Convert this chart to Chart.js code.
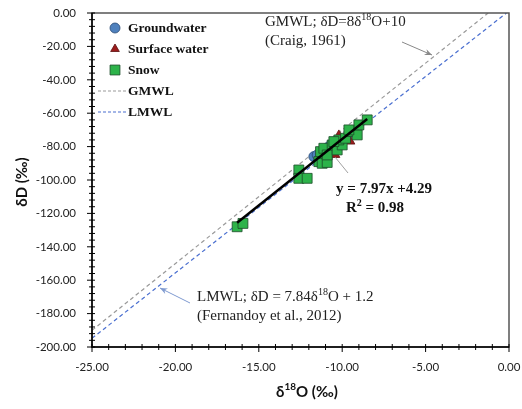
<!DOCTYPE html>
<html>
<head>
<meta charset="utf-8">
<script src="https://cdn.jsdelivr.net/npm/chart.js@4.4.0/dist/chart.umd.min.js"></script>
<style>
  body { margin: 0; background: #fff; }
  #wrap { width: 522px; height: 409px; }
</style>
</head>
<body>
<div id="wrap"><canvas id="chart" width="522" height="409"></canvas></div>
<script>
// isotope samples, d18O (x) and dD (y), per mille
const snowX = [-16.3, -15.95, -12.6, -12.6, -12.1, -11.4, -11.2, -10.9, -11.3, -11.1, -10.9, -10.6, -10.3, -10.0, -10.2, -9.8, -9.5, -9.1, -9.0, -8.5, -10.5, -9.6];
const snowY = [-128, -126, -94, -99, -99, -89, -90, -89.5, -83, -81, -85, -79, -82, -79, -76, -75, -71, -73, -67, -64, -77, -70];
const surfaceX = [-10.2, -9.5, -10.4, -9.8, -10.6];
const surfaceY = [-73, -77, -85, -74, -80];
const groundX = [-11.7, -11.5, -10.8, -9.6];
const groundY = [-86, -85, -80, -72];

// water lines (end points inside the plot)
const gmwlX = [-25, -1.25];
const gmwlY = [-190, 0];
const lmwlX = [-25, -0.153];
const lmwlY = [-194.8, 0];
const fitX = [-16.3, -8.5];
const fitY = [-125.6, -63.5];

const xTicks = [-25, -20, -15, -10, -5, 0];
const yTicks = [0, -20, -40, -60, -80, -100, -120, -140, -160, -180, -200];

const pts = (xs, ys) => xs.map((x, i) => ({ x, y: ys[i] }));

Chart.defaults.font.family = "Lato";
Chart.defaults.color = "#222";

function rich(ctx, x, y, parts, size, weight, family, align) {
  const big = `${weight} ${size}px ${family}`;
  const small = `${weight} ${Math.round(size * 0.65)}px ${family}`;
  let w = 0;
  parts.forEach(p => { ctx.font = p.sup ? small : big; w += ctx.measureText(p.t).width; });
  let cx = align === "center" ? x - w / 2 : x;
  ctx.textAlign = "left";
  ctx.textBaseline = "middle";
  parts.forEach(p => {
    ctx.font = p.sup ? small : big;
    ctx.fillText(p.t, cx, p.sup ? y - size * 0.32 : y);
    cx += ctx.measureText(p.t).width;
  });
}

function arrow(ctx, x1, y1, x2, y2, color) {
  ctx.save();
  ctx.strokeStyle = color;
  ctx.fillStyle = color;
  ctx.lineWidth = 1;
  ctx.beginPath();
  ctx.moveTo(x1, y1);
  ctx.lineTo(x2, y2);
  ctx.stroke();
  const a = Math.atan2(y2 - y1, x2 - x1);
  ctx.beginPath();
  ctx.moveTo(x2, y2);
  ctx.lineTo(x2 - 8 * Math.cos(a - 0.4), y2 - 8 * Math.sin(a - 0.4));
  ctx.lineTo(x2 - 5 * Math.cos(a), y2 - 5 * Math.sin(a));
  ctx.lineTo(x2 - 8 * Math.cos(a + 0.4), y2 - 8 * Math.sin(a + 0.4));
  ctx.closePath();
  ctx.fill();
  ctx.restore();
}

// no extra room for label overhang, the outer padding decides the plot box
function noPad(s) {
  s.paddingTop = 0;
  s.paddingBottom = 0;
  s.paddingLeft = 0;
  s.paddingRight = 0;
}

const decor = {
  id: "decor",
  afterDraw(chart) {
    const { ctx, chartArea: ca, scales } = chart;
    const sx = scales.x, sy = scales.y;
    ctx.save();
    // frame
    ctx.strokeStyle = "#555";
    ctx.lineWidth = 1.5;
    ctx.strokeRect(ca.left, ca.top, ca.right - ca.left, ca.bottom - ca.top);
    ctx.strokeStyle = "#000";
    ctx.beginPath();
    ctx.moveTo(ca.left, ca.top);
    ctx.lineTo(ca.left, ca.bottom);
    ctx.lineTo(ca.right, ca.bottom);
    ctx.stroke();

    // ticks
    ctx.lineWidth = 1;
    ctx.beginPath();
    for (let v = -25; v <= 0; v += 1) {
      const px = sx.getPixelForValue(v);
      const len = v % 5 === 0 ? 5 : 3;
      ctx.moveTo(px, ca.bottom - 3);
      ctx.lineTo(px, ca.bottom + len);
    }
    for (let v = -200; v <= 0; v += 4) {
      const py = sy.getPixelForValue(v);
      const len = v % 20 === 0 ? 5 : 3;
      ctx.moveTo(ca.left - len, py);
      ctx.lineTo(ca.left + 3, py);
    }
    ctx.stroke();

    // legend
    const items = [2, 1, 0, 4, 5].map(i => chart.data.datasets[i]);
    items.forEach((ds, i) => {
      const y = 28 + i * 21;
      if (ds.showLine) {
        ctx.save();
        ctx.strokeStyle = ds.borderColor;
        ctx.lineWidth = 1.2;
        ctx.setLineDash([3, 2]);
        ctx.beginPath();
        ctx.moveTo(98, y);
        ctx.lineTo(126, y);
        ctx.stroke();
        ctx.restore();
      } else {
        ctx.save();
        ctx.fillStyle = ds.backgroundColor;
        ctx.strokeStyle = ds.borderColor;
        ctx.lineWidth = 0.8;
        Chart.helpers.drawPoint(ctx, { pointStyle: ds.pointStyle, radius: ds.pointStyle === "rect" ? 7 : 5, borderWidth: 0.8 }, 115, y);
        ctx.restore();
      }
      ctx.fillStyle = "#111";
      ctx.font = "bold 13.5px 'Liberation Serif'";
      ctx.textAlign = "left";
      ctx.textBaseline = "middle";
      ctx.fillText(ds.label, 128, y + 1);
    });

    // annotations
    ctx.fillStyle = "#222";
    rich(ctx, 265, 22, [{ t: "GMWL; δD=8δ" }, { t: "18", sup: true }, { t: "O+10" }], 15, "normal", "'Liberation Serif'", "left");
    rich(ctx, 265, 41, [{ t: "(Craig, 1961)" }], 15, "normal", "'Liberation Serif'", "left");
    arrow(ctx, 402, 42, 432, 55, "#888");

    rich(ctx, 197, 297, [{ t: "LMWL; δD = 7.84δ" }, { t: "18", sup: true }, { t: "O + 1.2" }], 15, "normal", "'Liberation Serif'", "left");
    rich(ctx, 197, 316, [{ t: "(Fernandoy et al., 2012)" }], 15, "normal", "'Liberation Serif'", "left");
    arrow(ctx, 190, 303, 160, 288, "#7f9ad0");

    ctx.strokeStyle = "#888";
    ctx.lineWidth = 0.8;
    ctx.beginPath();
    ctx.moveTo(335, 157);
    ctx.lineTo(348, 173);
    ctx.stroke();
    ctx.fillStyle = "#111";
    rich(ctx, 384, 189, [{ t: "y = 7.97x +4.29" }], 15, "bold", "'Liberation Serif'", "center");
    rich(ctx, 375, 208, [{ t: "R" }, { t: "2", sup: true }, { t: " = 0.98" }], 15, "bold", "'Liberation Serif'", "center");

    // axis titles
    ctx.fillStyle = "#111";
    rich(ctx, 307, 392, [{ t: "δ" }, { t: "18", sup: true }, { t: "O (‰)" }], 15, "bold", "Lato", "center");
    ctx.save();
    ctx.translate(22, 182);
    ctx.rotate(-Math.PI / 2);
    rich(ctx, 0, 0, [{ t: "δD (‰)" }], 15, "bold", "Lato", "center");
    ctx.restore();
    ctx.restore();
  }
};

new Chart(document.getElementById("chart"), {
  type: "scatter",
  data: {
    datasets: [
      { label: "Snow", data: pts(snowX, snowY), pointStyle: "rect", pointRadius: 7, pointHoverRadius: 7,
        backgroundColor: "#2db34a", borderColor: "#1c4a28", borderWidth: 0.8, order: 1 },
      { label: "Surface water", data: pts(surfaceX, surfaceY), pointStyle: "triangle", pointRadius: 5,
        backgroundColor: "#9b1c1c", borderColor: "#5a0f0f", borderWidth: 0.8, order: 2 },
      { label: "Groundwater", data: pts(groundX, groundY), pointStyle: "circle", pointRadius: 5,
        backgroundColor: "#4f81bd", borderColor: "#2a4a75", borderWidth: 0.8, order: 3 },
      { label: "fit", data: pts(fitX, fitY), showLine: true, borderColor: "#000", borderWidth: 2.5,
        pointRadius: 0, order: 0 },
      { label: "GMWL", data: pts(gmwlX, gmwlY), showLine: true, borderColor: "#999", borderWidth: 1.2,
        borderDash: [4, 3], pointRadius: 0, order: 5 },
      { label: "LMWL", data: pts(lmwlX, lmwlY), showLine: true, borderColor: "#4a6fd0", borderWidth: 1.2,
        borderDash: [4, 3], pointRadius: 0, order: 5 }
    ]
  },
  options: {
    responsive: false,
    animation: false,
    layout: { padding: { left: 0, top: 13, right: 13, bottom: 0 } },
    plugins: { legend: { display: false }, tooltip: { enabled: false } },
    scales: {
      x: {
        type: "linear", min: -25, max: 0,
        afterBuildTicks: s => { s.ticks = xTicks.map(v => ({ value: v })); },
        afterFit: s => { s.height = 62; noPad(s); },
        grid: { display: false, drawTicks: false },
        border: { display: false },
        ticks: { padding: 13, font: { size: 11.5 }, color: "#222", callback: v => v.toFixed(2) }
      },
      y: {
        type: "linear", min: -200, max: 0,
        afterBuildTicks: s => { s.ticks = yTicks.map(v => ({ value: v })); },
        afterFit: s => { s.width = 92; noPad(s); },
        grid: { display: false, drawTicks: false },
        border: { display: false },
        ticks: { padding: 16, font: { size: 11.5 }, color: "#222", callback: v => v.toFixed(2) }
      }
    }
  },
  plugins: [decor]
});
</script>
</body>
</html>
